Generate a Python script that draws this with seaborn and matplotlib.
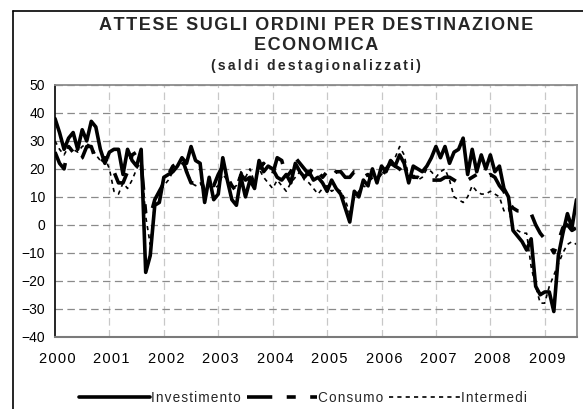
import numpy as np
import pandas as pd
import matplotlib
matplotlib.use("Agg")
import matplotlib.pyplot as plt
from matplotlib.lines import Line2D
import seaborn as sns

# ---- data (monthly, Jan 2000 - Aug 2009) ----
years = ["2000", "2001", "2002", "2003", "2004", "2005", "2006", "2007", "2008", "2009"]

investimento = [
    38, 33, 27, 31, 33, 27, 34, 30, 37, 35, 27, 22,      # 2000
    26, 27, 27, 18, 27, 23, 21, 27, -17, -11, 7, 8,      # 2001
    17, 18, 19, 21, 24, 22, 28, 23, 22, 8, 17, 9,        # 2002
    11, 24, 16, 9, 7, 17, 10, 16, 13, 23, 19, 21,        # 2003
    20, 17, 16, 18, 15, 22, 19, 17, 19, 16, 17, 15,      # 2004
    12, 16, 13, 11, 6, 1, 12, 10, 16, 14, 20, 15,        # 2005
    21, 19, 23, 21, 25, 22, 15, 21, 20, 19, 21, 24,      # 2006
    28, 24, 28, 22, 26, 27, 31, 18, 27, 19, 25, 20,      # 2007
    25, 19, 21, 13, 10, -2, -4, -6, -9, -5, -22, -25,    # 2008
    -24, -24, -31, -11, -3, 4, -1, 9,                    # 2009
]
consumo = [
    26, 22, 20, 28, 26, 23, 24, 28, 28, 23, 22, 24,
    21, 19, 15, 15, 19, 25, 26, 22, 4, 3, 9, 12,
    15, 18, 21, 22, 24, 19, 15, 15, 17, 12, 15, 14,
    18, 21, 17, 14, 12, 18, 16, 17, 15, 20, 22, 19,
    18, 24, 23, 17, 19, 24, 22, 20, 18, 21, 19, 17,
    19, 17, 19, 19, 17, 17, 19, 19, 17, 18, 16, 17,
    17, 20, 22, 21, 20, 18, 19, 17, 17, 16, 16, 16,
    16, 16, 17, 17, 16, 15, 15, 16, 17, 18, 17, 17,
    18, 17, 14, 12, 8, 6, 5, 5, 4, 4, 0, -3,
    -5, -7, -10, -6, -1, 0, -2, -1,
]
intermedi = [
    30, 27, 25, 28, 27, 26, 28, 29, 28, 25, 23, 24,
    20, 12, 11, 15, 13, 16, 20, 23, 3, -7, 8, 12,
    14, 16, 19, 21, 22, 20, 15, 14, 15, 12, 14, 13,
    14, 18, 16, 13, 14, 19, 17, 20, 15, 20, 17, 15,
    13, 16, 14, 12, 15, 17, 19, 16, 15, 13, 11, 13,
    14, 12, 13, 12, 9, 4, 10, 12, 14, 13, 18, 16,
    18, 20, 22, 24, 28, 25, 17, 18, 16, 17, 20, 19,
    17, 19, 20, 16, 10, 9, 8, 10, 14, 12, 11, 11,
    12, 11, 10, 5, 6, -1, -2, -3, -3, -15, -22, -28,
    -28, -22, -18, -14, -10, -7, -6, -7,
]

n = len(investimento)
months = np.arange(n)
df = pd.DataFrame({"mese": months, "Investimento": investimento,
                   "Consumo": consumo, "Intermedi": intermedi})


def spaced(s, sep="\u200a"):
    return sep.join(s)


# ---- style ----
sns.set_style("white")
plt.rcParams["font.family"] = ["Liberation Sans", "DejaVu Sans"]

W, H = 583, 409
fig = plt.figure(figsize=(W / 100, H / 100), dpi=100)
ax = fig.add_axes([55 / W, 1 - 336.7 / H, (576.5 - 55) / W, (336.7 - 85) / H])

sns.lineplot(data=df, x="mese", y="Investimento", ax=ax, color="black",
             lw=2.6, label="Investimento")
sns.lineplot(data=df, x="mese", y="Consumo", ax=ax, color="black",
             lw=2.6, linestyle=(0, (7, 4, 2.5, 4)), label="Consumo")
sns.lineplot(data=df, x="mese", y="Intermedi", ax=ax, color="black",
             lw=1.2, linestyle=(0, (2.5, 2.5)), label="Intermedi")

ax.set_xlim(0, n - 1)
ax.set_ylim(-40, 50)
ax.set_yticks(np.arange(-40, 51, 10))
ax.set_xticks(np.arange(0, n, 12) + 0.5)
ax.set_xticklabels([spaced(y) for y in years])
ax.set_xlabel("")
ax.set_ylabel("")

ax.yaxis.grid(True, color="#8a8a8a", linestyle=(0, (6, 3.5)), lw=0.9)
ax.set_axisbelow(True)
for xv in np.arange(12, n, 12):
    ax.axvline(xv, color="#c8c8c8", linestyle=(0, (6, 3.5)), lw=0.9, zorder=0)

for s in ["top", "right"]:
    ax.spines[s].set_color("#8c8c8c")
    ax.spines[s].set_linewidth(1.3)
ax.spines["bottom"].set_color("#7a7a7a")
ax.spines["bottom"].set_linewidth(1.5)
ax.spines["left"].set_color("black")
ax.spines["left"].set_linewidth(1.2)

ax.tick_params(axis="y", direction="out", length=4, width=1, color="black",
               labelsize=10, pad=3)
ax.tick_params(axis="x", length=0, labelsize=10.5, pad=11)
ax.tick_params(axis="both", labelcolor="black")

ax.legend_.remove()
handles = [
    Line2D([], [], color="black", lw=2.6),
    Line2D([], [], color="black", lw=2.6, linestyle=(0, (7, 4, 2.5, 4))),
    Line2D([], [], color="black", lw=1.2, linestyle=(0, (2.5, 2.5))),
]
fig.legend(handles, [spaced("Investimento"), spaced("Consumo"), spaced("Intermedi")],
           loc="center", bbox_to_anchor=(303 / W, 1 - 398 / H), ncol=3,
           frameon=False, fontsize=9.8, handlelength=5.2, handletextpad=0.05,
           columnspacing=0.45)

# titles
cx = (55 + 576.5) / 2 / W
fig.text(cx, 1 - 25 / H, spaced("ATTESE SUGLI ORDINI PER DESTINAZIONE"),
         ha="center", va="center", fontsize=13, fontweight="bold")
fig.text(cx, 1 - 46 / H, spaced("ECONOMICA"), ha="center", va="center",
         fontsize=13, fontweight="bold")
fig.text(cx, 1 - 66 / H, spaced("(saldi destagionalizzati)", "\u200a\u200a"),
         ha="center", va="center", fontsize=10, fontweight="bold")

# outer chart frame (left and top edges)
fig.add_artist(Line2D([12.5 / W, 12.5 / W], [0, 1 - 11 / H], color="black",
                      lw=1.2, transform=fig.transFigure))
fig.add_artist(Line2D([12.5 / W, 1], [1 - 11 / H, 1 - 11 / H], color="black",
                      lw=1.2, transform=fig.transFigure))

fig.savefig("out.png", dpi=100)
